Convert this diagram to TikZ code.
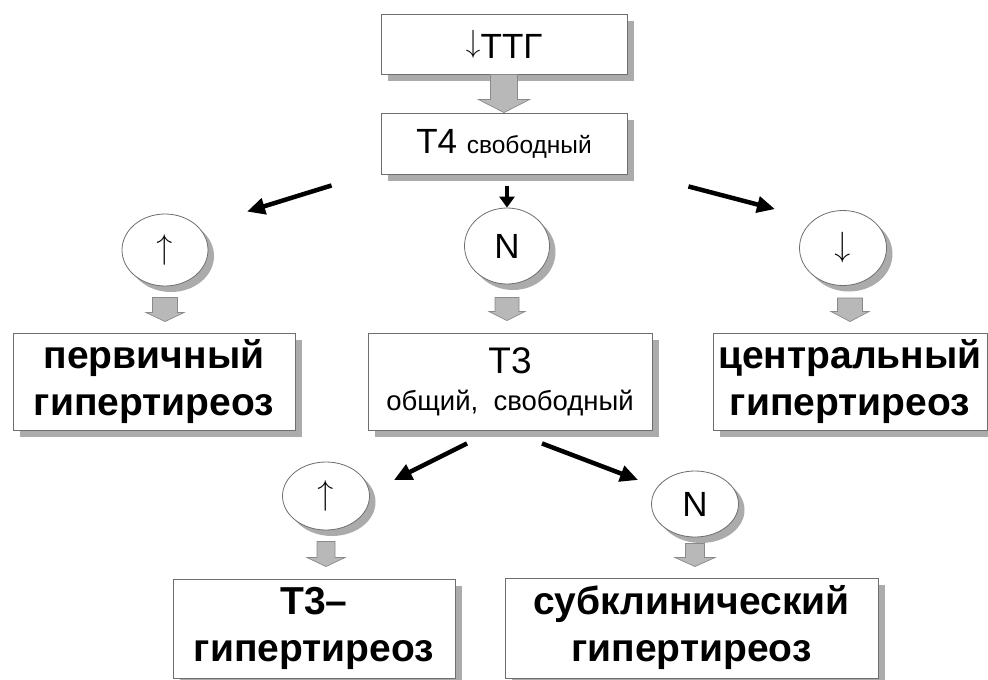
\documentclass[tikz,border=0pt]{standalone}
\usepackage{fontspec}
\setmainfont{Liberation Sans}
\newfontfamily\lmarrow{Latin Modern Roman}
\usetikzlibrary{shapes.geometric,shadows,arrows.meta,calc}
\definecolor{boxline}{HTML}{6E6E6E}
\definecolor{shadowgray}{HTML}{ABABAB}
\definecolor{blkfill}{HTML}{B8B8B8}
\definecolor{blkline}{HTML}{8A8A8A}
% #1 top point, #2 tip point, #3 shaft half width, #4 head half width, #5 head length
\newcommand\blkarrow[5]{%
  \draw[blockarrow] let \p1=(#1), \p2=(#2) in
   (\x1-#3,\y1) -- (\x1+#3,\y1) -- (\x1+#3,\y2+#5) -- (\x1+#4,\y2+#5) --
   (\x1,\y2) -- (\x1-#4,\y2+#5) -- (\x1-#3,\y2+#5) -- cycle;}
\begin{document}
\begin{tikzpicture}[x=1pt,y=-1pt,
  box/.style={draw=boxline, line width=0.9pt, fill=white, rectangle, inner sep=0pt,
    align=center, drop shadow={shadow xshift=7pt, shadow yshift=-7pt, fill=shadowgray, opacity=1}},
  oval/.style={draw=boxline, line width=0.8pt, fill=white, ellipse, inner sep=0pt,
    drop shadow={shadow xshift=6pt, shadow yshift=-6pt, fill=shadowgray, opacity=1},
    font=\fontsize{35}{35}\selectfont},
  arrowtxt/.style={font=\lmarrow\fontsize{35}{35}\selectfont},
  bigtxt/.style={font=\fontsize{39}{47}\selectfont\bfseries},
  blockarrow/.style={draw=blkline, fill=blkfill, line width=0.7pt},
  blackarrow/.style={line width=4.5pt, -{Triangle[length=18pt,width=16pt]}},
]
\useasboundingbox (0,0) rectangle (988,680);

% boxes
\node[box, minimum width=246pt, minimum height=60pt] (ttg) at (504,44)
  {\fontsize{35}{35}\selectfont\raisebox{6pt}{\lmarrow\fontsize{32}{32}\selectfont ↓}ТТГ};
\node[box, minimum width=246pt, minimum height=61pt] (t4) at (504,143.5)
  {\fontsize{35}{35}\selectfont T4 \fontsize{24.5}{24.5}\selectfont свободный};

% ovals row 1
\node[oval, arrowtxt, minimum width=86pt, minimum height=72pt] (eU1) at (165,250) {↑};
\node[oval, minimum width=85pt, minimum height=76pt] (eN1) at (507,246) {N};
\node[oval, arrowtxt, minimum width=87pt, minimum height=75pt] (eD1) at (843,248) {↓};

% boxes row 2
\node[box, bigtxt, minimum width=282pt, minimum height=97pt] (prim) at (154,381.5)
  {первичный\\гипертиреоз};
\node[box, minimum width=284pt, minimum height=97pt] (t3) at (510,381.5)
  {\fontsize{37}{37}\selectfont T3\\[15pt]\fontsize{27.5}{27.5}\selectfont общий,~~свободный};
\node[box, bigtxt, minimum width=274pt, minimum height=97pt] (cent) at (850,381.5)
  {центральный\\гипертиреоз};

% ovals row 2
\node[oval, arrowtxt, minimum width=87pt, minimum height=68pt] (eU2) at (326,496) {↑};
\node[oval, minimum width=87pt, minimum height=66pt] (eN2) at (695,504) {N};

% boxes row 3
\node[box, bigtxt, minimum width=282pt, minimum height=99pt] (t3h) at (314,628.5)
  {T3–\\гипертиреоз};
\node[box, bigtxt, minimum width=373pt, minimum height=100pt] (sub) at (691.5,628)
  {субклинический\\гипертиреоз};

% grey block arrows
\blkarrow{ttg.south}{t4.north}{13.5}{25.5}{13}
\blkarrow{$(eU1.south)+(0,11)$}{$(prim.north)+(0,-11)$}{12.5}{19}{9}
\blkarrow{$(eN1.south)+(0,13)$}{$(t3.north)+(0,-12)$}{12}{18}{9}
\blkarrow{$(eD1.south -| cent.north)+(0,12)$}{$(cent.north)+(0,-11)$}{12.5}{19}{10}
\blkarrow{$(eU2.south)+(0,11)$}{$(t3h.north)+(0,-12)$}{9}{19}{9}
\blkarrow{$(eN2.south)+(0,6)$}{$(sub.north)+(0,-11)$}{9.5}{20}{9}

% black arrows
\draw[blackarrow] ($(t4.south west)+(-49,11)$) -- ($(eU1.north)+(82,-2)$);
\draw[line width=4.5pt, -{Triangle[length=11pt,width=15pt]}] ($(t4.south -| eN1.north)+(0,12)$) -- (eN1.north);
\draw[blackarrow] ($(t4.south east)+(61,12)$) -- ($(eD1.north)+(-68,-1)$);
\draw[blackarrow] ($(t3.south)+(-43,13)$) -- ($(eU2.east)+(24,-16)$);
\draw[blackarrow] ($(t3.south)+(32,13)$) -- ($(eN2.west)+(-13,-24)$);
\end{tikzpicture}
\end{document}
